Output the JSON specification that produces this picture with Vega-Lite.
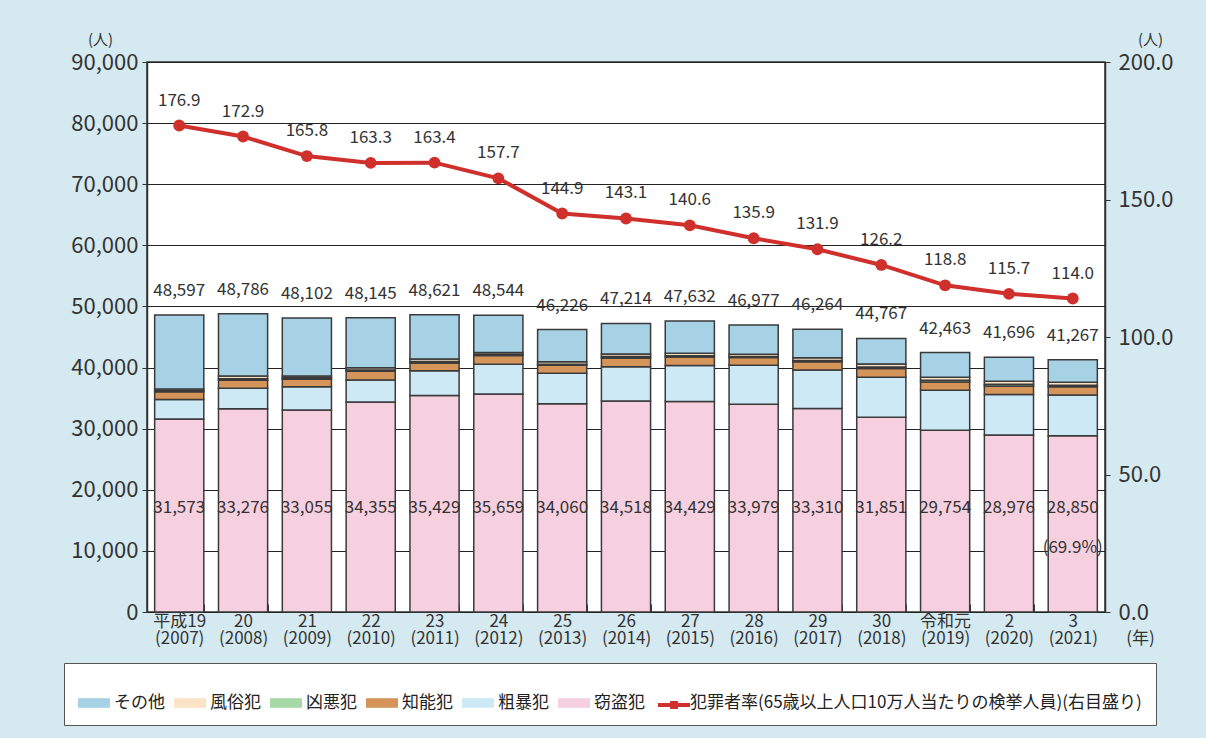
{
"$schema": "https://vega.github.io/schema/vega-lite/v6.json",
"width": 958, "height": 550,
"autosize": {"type": "none"},
"padding": {"left": 147, "top": 62, "right": 101, "bottom": 126},
"background": "#d5e9f0",
"config": {"font": "Noto Sans CJK JP", "view": {"fill": "white", "stroke": "#333", "strokeWidth": 1.5}},
"datasets": {
"seg": [
{"year":"平成19|(2007)","cat":"窃盗犯","value":31573},{"year":"平成19|(2007)","cat":"粗暴犯","value":3200},{"year":"平成19|(2007)","cat":"知能犯","value":1250},{"year":"平成19|(2007)","cat":"凶悪犯","value":200},{"year":"平成19|(2007)","cat":"風俗犯","value":250},{"year":"平成19|(2007)","cat":"その他","value":12124},
{"year":"20|(2008)","cat":"窃盗犯","value":33276},{"year":"20|(2008)","cat":"粗暴犯","value":3330},{"year":"20|(2008)","cat":"知能犯","value":1300},{"year":"20|(2008)","cat":"凶悪犯","value":250},{"year":"20|(2008)","cat":"風俗犯","value":450},{"year":"20|(2008)","cat":"その他","value":10180},
{"year":"21|(2009)","cat":"窃盗犯","value":33055},{"year":"21|(2009)","cat":"粗暴犯","value":3800},{"year":"21|(2009)","cat":"知能犯","value":1250},{"year":"21|(2009)","cat":"凶悪犯","value":220},{"year":"21|(2009)","cat":"風俗犯","value":280},{"year":"21|(2009)","cat":"その他","value":9497},
{"year":"22|(2010)","cat":"窃盗犯","value":34355},{"year":"22|(2010)","cat":"粗暴犯","value":3600},{"year":"22|(2010)","cat":"知能犯","value":1450},{"year":"22|(2010)","cat":"凶悪犯","value":200},{"year":"22|(2010)","cat":"風俗犯","value":350},{"year":"22|(2010)","cat":"その他","value":8190},
{"year":"23|(2011)","cat":"窃盗犯","value":35429},{"year":"23|(2011)","cat":"粗暴犯","value":4060},{"year":"23|(2011)","cat":"知能犯","value":1250},{"year":"23|(2011)","cat":"凶悪犯","value":250},{"year":"23|(2011)","cat":"風俗犯","value":400},{"year":"23|(2011)","cat":"その他","value":7232},
{"year":"24|(2012)","cat":"窃盗犯","value":35659},{"year":"24|(2012)","cat":"粗暴犯","value":4900},{"year":"24|(2012)","cat":"知能犯","value":1400},{"year":"24|(2012)","cat":"凶悪犯","value":200},{"year":"24|(2012)","cat":"風俗犯","value":300},{"year":"24|(2012)","cat":"その他","value":6085},
{"year":"25|(2013)","cat":"窃盗犯","value":34060},{"year":"25|(2013)","cat":"粗暴犯","value":5000},{"year":"25|(2013)","cat":"知能犯","value":1300},{"year":"25|(2013)","cat":"凶悪犯","value":200},{"year":"25|(2013)","cat":"風俗犯","value":400},{"year":"25|(2013)","cat":"その他","value":5266},
{"year":"26|(2014)","cat":"窃盗犯","value":34518},{"year":"26|(2014)","cat":"粗暴犯","value":5600},{"year":"26|(2014)","cat":"知能犯","value":1450},{"year":"26|(2014)","cat":"凶悪犯","value":250},{"year":"26|(2014)","cat":"風俗犯","value":400},{"year":"26|(2014)","cat":"その他","value":4996},
{"year":"27|(2015)","cat":"窃盗犯","value":34429},{"year":"27|(2015)","cat":"粗暴犯","value":5900},{"year":"27|(2015)","cat":"知能犯","value":1400},{"year":"27|(2015)","cat":"凶悪犯","value":200},{"year":"27|(2015)","cat":"風俗犯","value":400},{"year":"27|(2015)","cat":"その他","value":5303},
{"year":"28|(2016)","cat":"窃盗犯","value":33979},{"year":"28|(2016)","cat":"粗暴犯","value":6400},{"year":"28|(2016)","cat":"知能犯","value":1250},{"year":"28|(2016)","cat":"凶悪犯","value":200},{"year":"28|(2016)","cat":"風俗犯","value":350},{"year":"28|(2016)","cat":"その他","value":4798},
{"year":"29|(2017)","cat":"窃盗犯","value":33310},{"year":"29|(2017)","cat":"粗暴犯","value":6300},{"year":"29|(2017)","cat":"知能犯","value":1350},{"year":"29|(2017)","cat":"凶悪犯","value":200},{"year":"29|(2017)","cat":"風俗犯","value":450},{"year":"29|(2017)","cat":"その他","value":4654},
{"year":"30|(2018)","cat":"窃盗犯","value":31851},{"year":"30|(2018)","cat":"粗暴犯","value":6550},{"year":"30|(2018)","cat":"知能犯","value":1450},{"year":"30|(2018)","cat":"凶悪犯","value":250},{"year":"30|(2018)","cat":"風俗犯","value":500},{"year":"30|(2018)","cat":"その他","value":4166},
{"year":"令和元|(2019)","cat":"窃盗犯","value":29754},{"year":"令和元|(2019)","cat":"粗暴犯","value":6550},{"year":"令和元|(2019)","cat":"知能犯","value":1350},{"year":"令和元|(2019)","cat":"凶悪犯","value":250},{"year":"令和元|(2019)","cat":"風俗犯","value":500},{"year":"令和元|(2019)","cat":"その他","value":4059},
{"year":"2|(2020)","cat":"窃盗犯","value":28976},{"year":"2|(2020)","cat":"粗暴犯","value":6600},{"year":"2|(2020)","cat":"知能犯","value":1400},{"year":"2|(2020)","cat":"凶悪犯","value":300},{"year":"2|(2020)","cat":"風俗犯","value":500},{"year":"2|(2020)","cat":"その他","value":3920},
{"year":"3|(2021)","cat":"窃盗犯","value":28850},{"year":"3|(2021)","cat":"粗暴犯","value":6650},{"year":"3|(2021)","cat":"知能犯","value":1350},{"year":"3|(2021)","cat":"凶悪犯","value":250},{"year":"3|(2021)","cat":"風俗犯","value":500},{"year":"3|(2021)","cat":"その他","value":3667}
],
"yr": [
{"year":"平成19|(2007)","total":48597,"theft":31573,"rate":176.9},
{"year":"20|(2008)","total":48786,"theft":33276,"rate":172.9},
{"year":"21|(2009)","total":48102,"theft":33055,"rate":165.8},
{"year":"22|(2010)","total":48145,"theft":34355,"rate":163.3},
{"year":"23|(2011)","total":48621,"theft":35429,"rate":163.4},
{"year":"24|(2012)","total":48544,"theft":35659,"rate":157.7},
{"year":"25|(2013)","total":46226,"theft":34060,"rate":144.9},
{"year":"26|(2014)","total":47214,"theft":34518,"rate":143.1},
{"year":"27|(2015)","total":47632,"theft":34429,"rate":140.6},
{"year":"28|(2016)","total":46977,"theft":33979,"rate":135.9},
{"year":"29|(2017)","total":46264,"theft":33310,"rate":131.9},
{"year":"30|(2018)","total":44767,"theft":31851,"rate":126.2},
{"year":"令和元|(2019)","total":42463,"theft":29754,"rate":118.8},
{"year":"2|(2020)","total":41696,"theft":28976,"rate":115.7},
{"year":"3|(2021)","total":41267,"theft":28850,"rate":114.0,"share":"(69.9%)"}
]
},
"encoding": {
"x": {"field": "year", "type": "nominal",
 "scale": {"domain": ["平成19|(2007)","20|(2008)","21|(2009)","22|(2010)","23|(2011)","24|(2012)","25|(2013)","26|(2014)","27|(2015)","28|(2016)","29|(2017)","30|(2018)","令和元|(2019)","2|(2020)","3|(2021)"], "paddingInner": 0.23, "paddingOuter": 0.12},
 "axis": {"title": "(年)", "titleX": 993, "titleY": 26, "titleAngle": 0, "titleAlign": "center", "titleBaseline": "middle", "titleFontSize": 17, "titleFontWeight": "normal", "titleColor": "#333",
  "labelExpr": "split(datum.label, '|')", "labelAngle": 0, "labelFontSize": 17, "labelColor": "#333", "labelLineHeight": 17, "labelPadding": 9, "labelBaseline": "top",
  "tickBand": "extent", "tickSize": -8, "tickColor": "#333", "domain": false}}
},
"layer": [
{"layer": [
 {"data": {"name": "seg"},
  "transform": [{"calculate": "indexof(['窃盗犯','粗暴犯','知能犯','凶悪犯','風俗犯','その他'], datum.cat)", "as": "ord"}],
  "mark": {"type": "bar", "stroke": "#3a3a3a", "strokeWidth": 1.5},
  "encoding": {
   "y": {"field": "value", "type": "quantitative", "stack": "zero", "scale": {"domain": [0, 90000]},
    "axis": {"title": "(人)", "titleAngle": 0, "titleX": -47, "titleY": -23, "titleAlign": "center", "titleBaseline": "middle", "titleFontSize": 15, "titleFontWeight": "normal", "titleColor": "#333",
     "values": [0,10000,20000,30000,40000,50000,60000,70000,80000,90000], "format": ",d", "labelFontSize": 22, "labelColor": "#333", "labelPadding": 4,
     "grid": true, "gridColor": "#222", "gridWidth": 1.2, "domainColor": "#333", "domainWidth": 1.5, "tickColor": "#333", "tickSize": 5}},
   "color": {"field": "cat", "type": "nominal",
    "scale": {"domain": ["その他","風俗犯","凶悪犯","知能犯","粗暴犯","窃盗犯","犯罪者率(65歳以上人口10万人当たりの検挙人員)(右目盛り)"],
     "range": ["#a7d2e6","#fbe3c6","#a6d9a6","#d4945a","#cde9f6","#f6d0df","#ffffff"]},
    "legend": {"orient": "none", "legendX": -83, "legendY": 601, "direction": "horizontal",
     "title": "　", "titleFontSize": 10, "titlePadding": 0, "titleOrient": "top",
     "fillColor": "white", "strokeColor": "#555", "padding": 14, "labelFontSize": 17, "labelColor": "#222", "labelOffset": 4, "labelLimit": 800,
     "columnPadding": 9, "symbolSize": 1024, "symbolType": "M-1,-0.3h2v0.6h-2z", "symbolStrokeWidth": 0}},
   "order": {"field": "ord", "type": "quantitative"}
  }},
 {"data": {"name": "yr"},
  "mark": {"type": "text", "dy": -24, "fontSize": 17, "color": "#333"},
  "encoding": {"y": {"field": "total", "type": "quantitative", "title": "(人)"}, "text": {"field": "total", "type": "quantitative", "format": ","}}},
 {"data": {"name": "yr"},
  "mark": {"type": "text", "fontSize": 17, "color": "#333"},
  "encoding": {"y": {"datum": 17000, "type": "quantitative", "title": "(人)"}, "text": {"field": "theft", "type": "quantitative", "format": ","}}},
 {"data": {"name": "yr"},
  "transform": [{"filter": "datum.share != null"}],
  "mark": {"type": "text", "fontSize": 17, "color": "#333"},
  "encoding": {"y": {"datum": 10400, "type": "quantitative", "title": "(人)"}, "text": {"field": "share", "type": "nominal"}}}
]},
{"layer": [
 {"data": {"name": "yr"},
  "mark": {"type": "line", "strokeWidth": 4},
  "encoding": {
   "y": {"field": "rate", "type": "quantitative", "scale": {"domain": [0, 200]},
    "axis": {"orient": "right", "title": "(人)", "titleAngle": 0, "titleX": 45, "titleY": -23, "titleAlign": "center", "titleBaseline": "middle", "titleFontSize": 15, "titleFontWeight": "normal", "titleColor": "#333",
     "values": [0,50,100,150,200], "format": ".1f", "labelFontSize": 22, "labelColor": "#333", "labelPadding": 8, "grid": false,
     "domainColor": "#333", "domainWidth": 1.5, "tickColor": "#333", "tickSize": 5}},
   "stroke": {"datum": "犯罪者率", "type": "nominal", "scale": {"range": ["#d0302b"]},
    "legend": {"orient": "none", "legendX": 509, "legendY": 625, "title": null, "labelExpr": "''", "labelFontSize": 6, "labelOffset": 0,
     "padding": 0, "symbolSize": 1024, "symbolType": "M-1,0H1M-0.12,-0.12H0.12V0.12H-0.12Z", "symbolStrokeWidth": 4, "symbolStrokeColor": "#d0302b"}}}},
 {"data": {"name": "yr"},
  "mark": {"type": "circle", "size": 140, "opacity": 1, "color": "#d0302b"},
  "encoding": {"y": {"field": "rate", "type": "quantitative"}}},
 {"data": {"name": "yr"},
  "mark": {"type": "text", "dy": -25, "fontSize": 17, "color": "#333"},
  "encoding": {"y": {"field": "rate", "type": "quantitative"}, "text": {"field": "rate", "type": "quantitative", "format": ".1f"}}}
]}
],
"resolve": {"scale": {"y": "independent"}}
}
